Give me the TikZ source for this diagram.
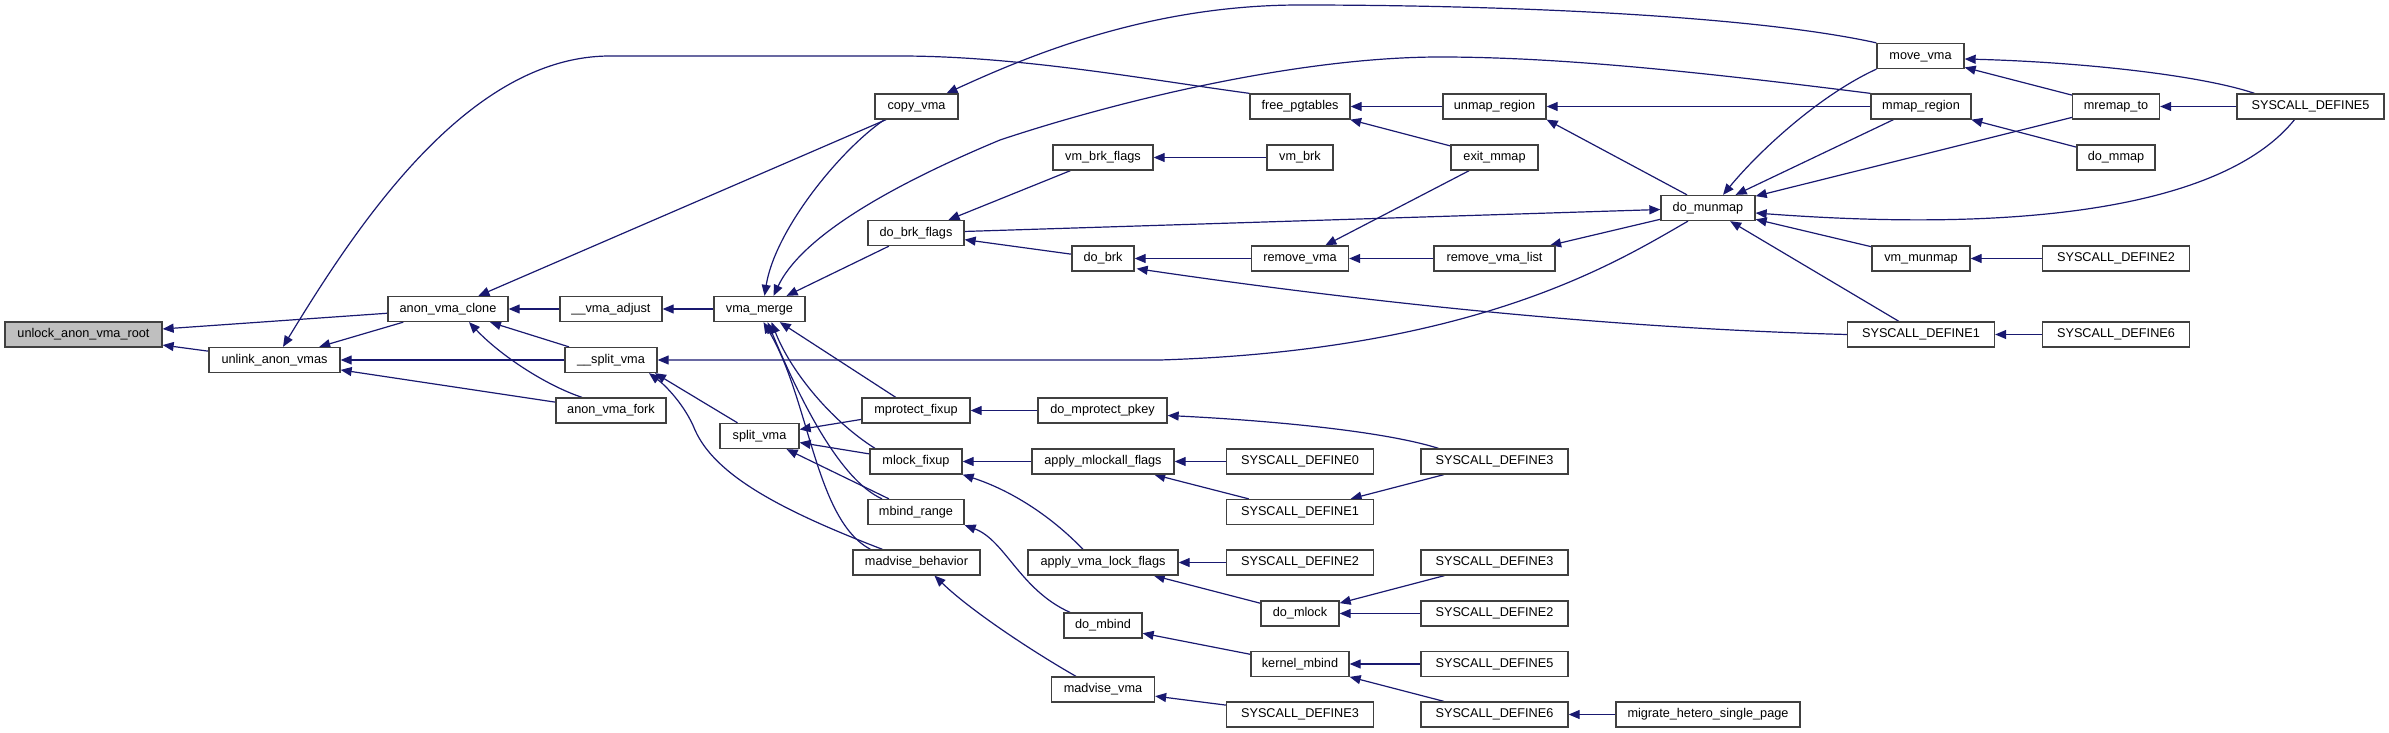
\documentclass[tikz,border=0pt]{standalone}
\usepackage{fontspec}
\setmainfont{Liberation Sans}
\usetikzlibrary{arrows.meta,calc,backgrounds}
\definecolor{edgec}{HTML}{191970}
\definecolor{boxc}{HTML}{404040}
\definecolor{rootc}{HTML}{BFBFBF}
\begin{document}
\begin{tikzpicture}[x=0.5pt,y=-0.5pt,
  nb/.style={draw=boxc, line width=0.65pt, fill=white, minimum height=12.5pt, inner sep=0pt,
    text height=4.6pt, text depth=1.35pt, font=\fontsize{6.35}{7.5}\selectfont},
  edg/.style={draw=edgec, line width=0.6pt, -{Triangle[length=5.5pt,width=4.5pt]}}]
\useasboundingbox (0,0) rectangle (2389,733);
% column 0-2
\node[nb, fill=rootc, minimum width=78.5pt] (root) at (83.5,334.5) {unlock\_anon\_vma\_root};
\node[nb, minimum width=65.5pt] (unlink) at (274.5,360) {unlink\_anon\_vmas};
\node[nb, minimum width=60pt] (avclone) at (448,309) {anon\_vma\_clone};
\node[nb, minimum width=51pt] (vmaadj) at (611,309) {\_\_vma\_adjust};
\node[nb, minimum width=46pt] (splitvma2) at (611,360) {\_\_split\_vma};
\node[nb, minimum width=55pt] (avfork) at (611,410.5) {anon\_vma\_fork};
\node[nb, minimum width=45.5pt] (vmamerge) at (759.5,309) {vma\_merge};
\node[nb, minimum width=39.5pt] (splitvma) at (759.5,436) {split\_vma};
% column 916
\node[nb, minimum width=41.5pt] (copyvma) at (916.5,106.5) {copy\_vma};
\node[nb, minimum width=48pt] (dobrkflags) at (916,233) {do\_brk\_flags};
\node[nb, minimum width=54pt] (mprotfix) at (916,410.5) {mprotect\_fixup};
\node[nb, minimum width=46pt] (mlockfix) at (916,461.5) {mlock\_fixup};
\node[nb, minimum width=48pt] (mbindrange) at (916,512) {mbind\_range};
\node[nb, minimum width=63.5pt] (madvbeh) at (916.5,562.5) {madvise\_behavior};
% column 1103
\node[nb, minimum width=50pt] (vmbrkflags) at (1103,157.5) {vm\_brk\_flags};
\node[nb, minimum width=31pt] (dobrk) at (1103,258.5) {do\_brk};
\node[nb, minimum width=64.5pt] (domprot) at (1102.5,410.5) {do\_mprotect\_pkey};
\node[nb, minimum width=71pt] (applymlockall) at (1103,461.5) {apply\_mlockall\_flags};
\node[nb, minimum width=75pt] (applyvmalock) at (1103,562.5) {apply\_vma\_lock\_flags};
\node[nb, minimum width=39pt] (dombind) at (1103,625.5) {do\_mbind};
\node[nb, minimum width=51.5pt] (madvvma) at (1103,689.5) {madvise\_vma};
% column 1300
\node[nb, minimum width=50pt] (freepgt) at (1300,106.5) {free\_pgtables};
\node[nb, minimum width=33pt] (vmbrk) at (1300,157.5) {vm\_brk};
\node[nb, minimum width=48.5pt] (removevma) at (1300,258.5) {remove\_vma};
\node[nb, minimum width=73.5pt] (sd0) at (1300,461.5) {SYSCALL\_DEFINE0};
\node[nb, minimum width=73.5pt] (sd1ml) at (1300,512) {SYSCALL\_DEFINE1};
\node[nb, minimum width=73.5pt] (sd2ml) at (1300,562.5) {SYSCALL\_DEFINE2};
\node[nb, minimum width=39pt] (domlock) at (1300,613.5) {do\_mlock};
\node[nb, minimum width=49pt] (kmbind) at (1300,664) {kernel\_mbind};
\node[nb, minimum width=73.5pt] (sd3madv) at (1300,714.5) {SYSCALL\_DEFINE3};
% column 1494
\node[nb, minimum width=51.5pt] (unmapreg) at (1494.5,106.5) {unmap\_region};
\node[nb, minimum width=43.5pt] (exitmmap) at (1494.5,157.5) {exit\_mmap};
\node[nb, minimum width=60.5pt] (rvlist) at (1494.5,258.5) {remove\_vma\_list};
\node[nb, minimum width=73.5pt] (sd3mprot) at (1494.5,461.5) {SYSCALL\_DEFINE3};
\node[nb, minimum width=73.5pt] (sd3ml2) at (1494.5,562.5) {SYSCALL\_DEFINE3};
\node[nb, minimum width=73.5pt] (sd2mlk) at (1494.5,613.5) {SYSCALL\_DEFINE2};
\node[nb, minimum width=73.5pt] (sd5mb) at (1494.5,664) {SYSCALL\_DEFINE5};
\node[nb, minimum width=73.5pt] (sd6mb) at (1494.5,714.5) {SYSCALL\_DEFINE6};
% column 1708
\node[nb, minimum width=47pt] (domunmap) at (1708,208) {do\_munmap};
\node[nb, minimum width=92pt] (migrate) at (1708,714.5) {migrate\_hetero\_single\_page};
% column 1921
\node[nb, minimum width=43.5pt] (movevma) at (1920.5,56) {move\_vma};
\node[nb, minimum width=50pt] (mmapreg) at (1921,106.5) {mmap\_region};
\node[nb, minimum width=49pt] (vmmunmap) at (1921,258.5) {vm\_munmap};
\node[nb, minimum width=73.5pt] (sd1brk) at (1921,334.5) {SYSCALL\_DEFINE1};
% column 2116
\node[nb, minimum width=43.5pt] (mremapto) at (2116,106.5) {mremap\_to};
\node[nb, minimum width=39pt] (domap) at (2116,157.5) {do\_mmap};
\node[nb, minimum width=73.5pt] (sd2mun) at (2116,258.5) {SYSCALL\_DEFINE2};
\node[nb, minimum width=73.5pt] (sd6) at (2116,334.5) {SYSCALL\_DEFINE6};
% column 2310
\node[nb, minimum width=73.5pt] (sd5) at (2310.5,106.5) {SYSCALL\_DEFINE5};

\begin{scope}[on background layer]
\draw[edg] (avclone) -- (root);
\draw[edg] (unlink) -- (root);
\draw[edg] (vmaadj) -- (avclone);
\draw[edg] (splitvma2) -- (avclone);
\draw[edg] ($(avfork.north)+(-29,0)$) .. controls (545,385) and (500,355) .. ($(avclone.south)+(21,0)$);
\draw[edg] (copyvma) -- (avclone);
\draw[edg] (avclone) -- (unlink);
\draw[edg] (splitvma2) -- (unlink);
\draw[edg] (avfork) -- (unlink);
\draw[edg] (freepgt.north west) .. controls (1150,80) and (1020,56) .. (900,56) -- (610,56) .. controls (470,56) and (360,220) .. ($(unlink.north)+(8.5,0)$);
\draw[edg] (vmamerge) -- (vmaadj);
\draw[edg] (mmapreg.north west) .. controls (1700,72) and (1560,57) .. (1440,57) .. controls (1300,57) and (1120,100) .. (1000,140) .. controls (880,190) and (800,240) .. ($(vmamerge.north)+(14,0)$);
\draw[edg] (movevma.north west) .. controls (1750,15) and (1500,5) .. (1300,5) .. controls (1150,5) and (1030,55) .. ($(copyvma.north)+(30,0)$);
\draw[edg] (dobrkflags) -- (vmamerge);
\draw[edg] ($(copyvma.south)+(-32,0)$) .. controls (840,150) and (775,230) .. ($(vmamerge.north)+(5,0)$);
\draw[edg] (mprotfix) -- (vmamerge);
\draw[edg] ($(mlockfix.north)+(-41,0)$) .. controls (830,420) and (790,370) .. ($(vmamerge.south)+(12,0)$);
\draw[edg] ($(mbindrange.north)+(-34,0)$) .. controls (840,480) and (800,400) .. ($(vmamerge.south)+(8,0)$);
\draw[edg] ($(madvbeh.north)+(-46,0)$) .. controls (815,520) and (810,400) .. ($(vmamerge.south)+(4,0)$);
\draw[edg] ($(splitvma.north)+(-22,0)$) -- ($(splitvma2.south)+(44,0)$);
\draw[edg] ($(madvbeh.north)+(-34,0)$) .. controls (780,510) and (715,475) .. (695,430) .. controls (685,405) and (665,385) .. ($(splitvma2.south)+(38,0)$);
\draw[edg] (mprotfix) -- (splitvma);
\draw[edg] (mlockfix) -- (splitvma);
\draw[edg] (mbindrange) -- (splitvma);
\draw[edg] (vmbrkflags) -- (dobrkflags);
\draw[edg] (dobrk) -- (dobrkflags);
\draw[edg] (vmbrk) -- (vmbrkflags);
\draw[edg] (dobrkflags) -- (domunmap);
\draw[edg] (sd1brk.west) .. controls (1600,328) and (1350,300) .. ($(dobrk.south east)+(2,-3)$);
\draw[edg] (removevma) -- (dobrk);
\draw[edg] (rvlist) -- (removevma);
\draw[edg] (exitmmap) -- (removevma);
\draw[edg] (unmapreg) -- (freepgt);
\draw[edg] (exitmmap) -- (freepgt);
\draw[edg] (mmapreg) -- (unmapreg);
\draw[edg] ($(domunmap.north)+(-21,0)$) -- (unmapreg.south east);
\draw[edg] (domunmap) -- (rvlist);
\draw[edg] ($(domunmap.south)+(-20,0)$) .. controls (1620,260) and (1480,350) .. (1160,360) -- (splitvma2.east);
\draw[edg] (movevma.south west) .. controls (1820,95) and (1760,150) .. ($(domunmap.north)+(15,0)$);
\draw[edg] (mmapreg) -- (domunmap);
\draw[edg] (mremapto) -- (domunmap);
\draw[edg] ($(sd5.south)+(-16,0)$) .. controls (2230,200) and (2050,235) .. ($(domunmap.east)+(0,5)$);
\draw[edg] (vmmunmap) -- (domunmap);
\draw[edg] (sd1brk) -- (domunmap);
\draw[edg] (mremapto) -- (movevma);
\draw[edg] ($(sd5.north)+(-56,0)$) .. controls (2200,75) and (2080,62) .. ($(movevma.east)+(0,3)$);
\draw[edg] (sd5) -- (mremapto);
\draw[edg] (domap) -- (mmapreg);
\draw[edg] (sd2mun) -- (vmmunmap);
\draw[edg] (sd6) -- (sd1brk);
\draw[edg] (domprot) -- (mprotfix);
\draw[edg] ($(sd3mprot.north)+(-56,0)$) .. controls (1380,430) and (1260,420) .. ($(domprot.east)+(0,5)$);
\draw[edg] (applymlockall) -- (mlockfix);
\draw[edg] (sd0) -- (applymlockall);
\draw[edg] (sd1ml) -- (applymlockall);
\draw[edg] (sd3mprot) -- (sd1ml);
\draw[edg] ($(applyvmalock.north)+(-20,0)$) .. controls (1050,515) and (1010,490) .. (mlockfix.south east);
\draw[edg] (sd2ml) -- (applyvmalock);
\draw[edg] (domlock) -- (applyvmalock);
\draw[edg] (sd3ml2) -- (domlock);
\draw[edg] (sd2mlk) -- (domlock);
\draw[edg] ($(dombind.north)+(-33,0)$) .. controls (1020,590) and (1005,540) .. (mbindrange.south east);
\draw[edg] (kmbind) -- (dombind);
\draw[edg] (sd5mb) -- (kmbind);
\draw[edg] (sd6mb) -- (kmbind);
\draw[edg] (migrate) -- (sd6mb);
\draw[edg] ($(madvvma.north)+(-27,0)$) .. controls (1030,650) and (970,610) .. ($(madvbeh.south)+(18,0)$);
\draw[edg] (sd3madv) -- (madvvma);
\end{scope}
\end{tikzpicture}
\end{document}
